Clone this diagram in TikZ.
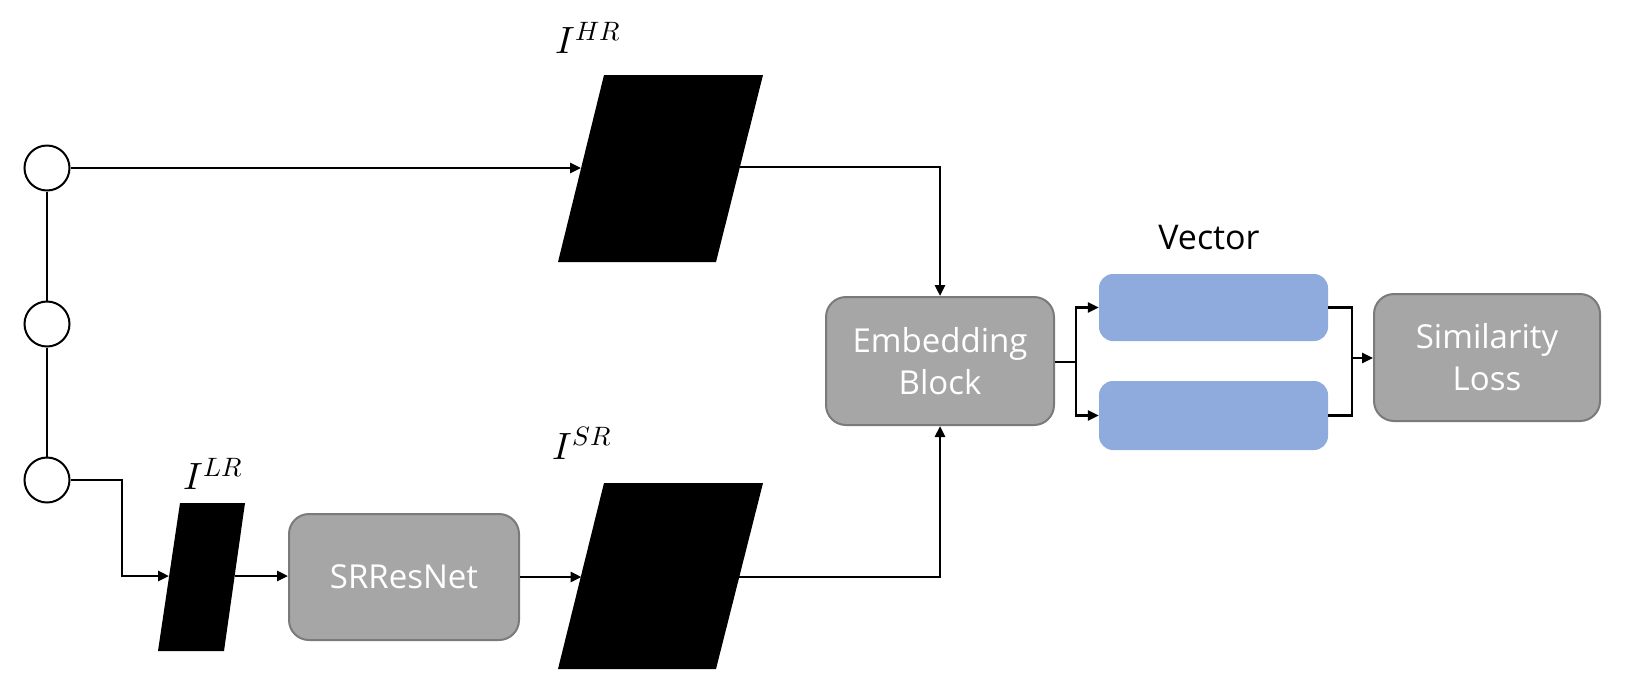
\documentclass[tikz,border=0pt]{standalone}
\usepackage{fontspec}
\usepackage{unicode-math}
\setmainfont{Open Sans}
\setmathfont{Latin Modern Math}
\usetikzlibrary{arrows.meta}
\definecolor{vecblue}{HTML}{8FAADC}
\definecolor{boxgray}{HTML}{A6A6A6}
\definecolor{boxedge}{HTML}{7A7A7A}
\begin{document}
\begin{tikzpicture}[x=1pt,y=-1pt,
  conn/.style={line width=2.6pt},
  arr/.style={conn,-{Triangle[length=11pt,width=10pt]}},
  inp/.style={circle,draw,line width=2pt,minimum size=45pt,inner sep=0pt,fill=white},
  graybox/.style={draw=boxedge,line width=2pt,fill=boxgray,rounded corners=20pt,text=white,font=\fontsize{33}{42}\selectfont,align=center,inner sep=0pt},
  bluebox/.style={fill=vecblue,rounded corners=14pt,inner sep=0pt,minimum width=229pt,minimum height=67pt},
  img/.style={fill=black},
  lab/.style={font=\fontsize{38}{46}\selectfont}]
\useasboundingbox (0,0) rectangle (1637,689);
% input circles
\node[inp] (c1) at (47,168) {};
\node[inp] (c2) at (47,324) {};
\node[inp] (c3) at (47,480) {};
% images
\fill[img] (604,75) -- (763,75) -- (716,262) -- (558,262) -- cycle;
\fill[img] (604,483) -- (763,483) -- (716,669) -- (558,669) -- cycle;
\fill[img] (180,503) -- (245,503) -- (224,651) -- (158,651) -- cycle;
\node[lab] (lhr) at (588,38) {$I^{HR}$};
\node[lab] (lsr) at (582,443) {$I^{SR}$};
\node[lab] (llr) at (213,474) {$I^{LR}$};
% blocks
\node[graybox,minimum width=228pt,minimum height=128pt] (emb) at (940,361) {Embedding\\Block};
\node[graybox,minimum width=230pt,minimum height=126pt] (srr) at (404,577) {SRResNet};
\node[graybox,minimum width=226pt,minimum height=127pt] (sim) at (1487,357.5) {Similarity\\Loss};
\node[bluebox] (v1) at (1213.5,307.5) {};
\node[bluebox,minimum height=69pt] (v2) at (1213.5,415.5) {};
\node[font=\fontsize{34}{40}\selectfont] (vec) at (1209,238) {Vector};
% coordinates
\coordinate (hrin) at (581,168);
\coordinate (hrout) at (740,167);
\coordinate (lrin) at (169,576);
\coordinate (lrout) at (235,576);
\coordinate (k1) at (122,576);
\coordinate (srin) at (581.5,577);
\coordinate (srout) at (739,577);
\coordinate (split) at (1076,362);
\coordinate (join) at (1352,358);
% connectors
\draw[conn] (c1.south) -- (c2.north);
\draw[conn] (c2.south) -- (c3.north);
\draw[arr] (c1.east) -- (hrin);
\draw[arr] (hrout) -| (emb.north);
\draw[arr] (c3.east) -| (k1) -- (lrin);
\draw[arr] (lrout) -- (srr.west |- lrout);
\draw[arr] (srr.east) -- (srin);
\draw[arr] (srout) -| (emb.south);
\draw[conn] (emb.east |- split) -- (split);
\draw[arr] (split) |- (v1.west);
\draw[arr] (split) |- (v2.west);
\draw[conn] (v1.east) -| (join);
\draw[conn] (v2.east) -| (join);
\draw[arr] (join) -- (sim.west |- join);
\end{tikzpicture}
\end{document}
